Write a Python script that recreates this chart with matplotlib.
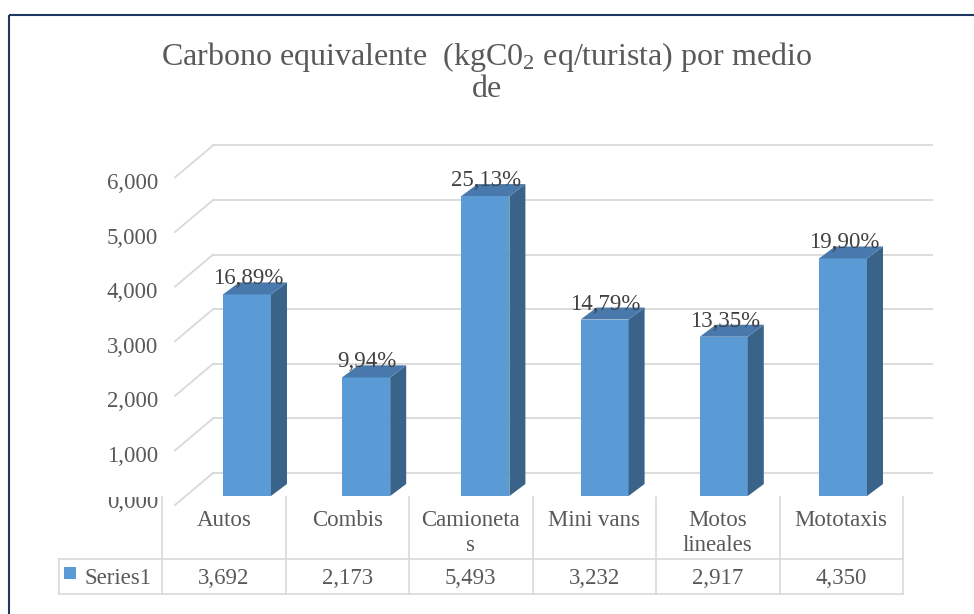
import matplotlib
matplotlib.use("Agg")
import matplotlib.pyplot as plt
from matplotlib import font_manager
from matplotlib.patches import Rectangle, Polygon

serif_candidates = ['Liberation Serif', 'Times New Roman', 'Nimbus Roman', 'DejaVu Serif']
available = {f.name for f in font_manager.fontManager.ttflist}
serif_list = [f for f in serif_candidates if f in available] or ['DejaVu Serif']
plt.rcParams['font.family'] = 'serif'
plt.rcParams['font.serif'] = serif_list
plt.rcParams['mathtext.fontset'] = 'custom'
plt.rcParams['mathtext.rm'] = serif_list[0]
plt.rcParams['mathtext.it'] = serif_list[0] + ':italic'

# ---------------- data ----------------
categories = ["Autos", "Combis", "Camioneta\ns", "Mini vans", "Motos\nlineales", "Mototaxis"]
values = [3.692, 2.173, 5.493, 3.232, 2.917, 4.350]
percent_labels = [16.89, 9.94, 25.13, 14.79, 13.35, 19.90]
y_ticks = [0, 1, 2, 3, 4, 5, 6]
series_name = "Series1"
title_line1 = "Carbono equivalente  (kgC0$_2$ eq/turista) por medio"
title_line2 = "de"

def fmt(v, d):
    return f"{v:.{d}f}".replace('.', ',')

W, H = 974, 614
fig = plt.figure(figsize=(W / 100, H / 100), dpi=100)
fig.patch.set_facecolor('white')

bg = fig.add_axes([0, 0, 1, 1])
bg.set_xlim(0, W)
bg.set_ylim(H, 0)
bg.axis('off')

grey_txt = '#595959'
grid_col = '#D9D9D9'
front_col = '#5B9BD5'
side_col = '#3A6389'
top_col = '#4878AC'

# frame
bg.plot([8.5, 8.5], [15, H + 5], color='#1F3864', lw=1.5, solid_capstyle='butt')
bg.plot([8.5, W + 5], [15, 15], color='#1F3864', lw=1.5, solid_capstyle='butt')

# title
bg.text(487, 65, title_line1, ha='center', va='baseline', fontsize=23, color=grey_txt)
bg.text(487, 97, title_line2, ha='center', va='baseline', fontsize=23, color=grey_txt)

# main axes (value coordinates)
L, R = 187.4, 902.6
y_base_px, px_per_unit = 496.0, 54.6
ymax = 6
ax = fig.add_axes([L / W, (H - y_base_px) / H, (R - L) / W, ymax * px_per_unit / H])
ax.set_xlim(-0.5, len(values) - 0.5)
ax.set_ylim(0, ymax)
ax.axis('off')
ax.patch.set_alpha(0)

DX = len(values) / (R - L)
DY = 1.0 / px_per_unit

def xpx(px):
    return (px - L) * DX - 0.5

for v in y_ticks:
    ax.plot([xpx(213), xpx(932)], [v + 23 * DY, v + 23 * DY], color=grid_col, lw=1.3, clip_on=False, zorder=1)
    ax.plot([xpx(175), xpx(213)], [v - 9 * DY, v + 23 * DY], color=grid_col, lw=1.3, clip_on=False, zorder=1)

clip_rect = Rectangle((0, 497), W, H - 497, transform=bg.transData, facecolor='none', edgecolor='none')
bg.add_patch(clip_rect)
for v in y_ticks:
    off = 12 if v == 0 else 20.6
    t = ax.text(xpx(158), v - off * DY, fmt(v, 3), ha='right', va='baseline', fontsize=16.5,
                color=grey_txt, clip_on=False)
    if v == 0:
        t.set_clip_path(clip_rect)
        t.set_clip_on(True)

w = 48 * DX
ddx = 16 * DX
ddy = 12 * DY
for i, v in enumerate(values):
    x0, x1 = i - w / 2, i + w / 2
    ax.add_patch(Rectangle((x0, 0), w, v, facecolor=front_col, edgecolor='none', zorder=3, clip_on=False))
    ax.add_patch(Polygon([(x1, 0), (x1 + ddx, ddy), (x1 + ddx, v + ddy), (x1, v)],
                         closed=True, facecolor=side_col, edgecolor='none', zorder=3, clip_on=False))
    ax.add_patch(Polygon([(x0, v), (x1, v), (x1 + ddx, v + ddy), (x0 + ddx, v + ddy)],
                         closed=True, facecolor=top_col, edgecolor='none', zorder=3, clip_on=False))
    ax.text(i + 1 * DX, v + 10 * DY, fmt(percent_labels[i], 2) + '%', ha='center', va='baseline',
            fontsize=16.5, color='#404040', zorder=5, clip_on=False)

col_edges = [162 + 123.5 * k for k in range(len(values) + 1)]
for xe in col_edges:
    bg.plot([xe, xe], [497, 594], color=grid_col, lw=1.2)
bg.plot([59, 59], [559, 594], color=grid_col, lw=1.2)
bg.plot([59, col_edges[-1]], [559, 559], color=grid_col, lw=1.2)
bg.plot([59, col_edges[-1]], [594, 594], color=grid_col, lw=1.2)

for i, (c, v) in enumerate(zip(categories, values)):
    xc = (col_edges[i] + col_edges[i + 1]) / 2
    for k, ln in enumerate(c.split('\n')):
        bg.text(xc, 526 + 25 * k, ln, ha='center', va='baseline', fontsize=16.5, color=grey_txt)
    bg.text(xc, 584, fmt(v, 3), ha='center', va='baseline', fontsize=16.5, color=grey_txt)

bg.add_patch(Rectangle((64, 567), 12, 12, facecolor=front_col, edgecolor='none'))
bg.text(85, 584, series_name, ha='left', va='baseline', fontsize=16.5, color=grey_txt)

fig.savefig('out.png', dpi=100, facecolor='white')
